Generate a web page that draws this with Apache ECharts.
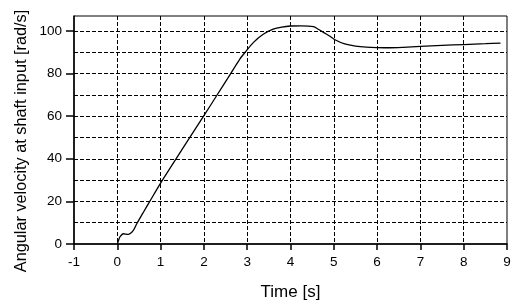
<!DOCTYPE html>
<html>
<head>
<meta charset="utf-8">
<script src="https://cdn.jsdelivr.net/npm/echarts@6/dist/echarts.min.js"></script>
<style>html,body{margin:0;padding:0;background:#fff}#c{width:526px;height:306px}</style>
</head>
<body>
<div id="c"></div>
<script>
const timeS = [0, 0.03, 0.06, 0.14, 0.25, 0.37, 0.45, 0.6, 0.75, 1.0, 1.5, 2.0, 2.3, 2.6, 2.83, 2.95, 3.14, 3.37, 3.6, 3.8, 4.0, 4.25, 4.53, 4.64, 4.78, 4.91, 5.05, 5.25, 5.5, 5.75, 6.0, 6.3, 6.6, 7.0, 7.5, 8.0, 8.5, 8.85];
const velocity = [0, 1.8, 3.3, 4.8, 4.5, 6.4, 9.5, 14.8, 20.0, 28.6, 44.5, 60.2, 69.8, 79.4, 86.8, 89.9, 94.5, 98.4, 100.8, 101.8, 102.3, 102.4, 102.0, 100.8, 99.1, 97.5, 95.6, 93.9, 92.9, 92.4, 92.2, 92.1, 92.3, 92.7, 93.2, 93.6, 94.0, 94.3];
const xTicks = [-1, 0, 1, 2, 3, 4, 5, 6, 7, 8, 9];
const yLabelTicks = [0, 20, 40, 60, 80, 100];
const xName = 'Time [s]';
const yName = 'Angular velocity at shaft input [rad/s]';

const chart = echarts.init(document.getElementById('c'), null, {renderer: 'canvas'});
const fontFam = '"Liberation Sans", Arial, sans-serif';
const dash = {color: '#000', type: [4, 2], width: 1};
chart.setOption({
  animation: false,
  backgroundColor: '#fff',
  grid: {left: 74, right: 19, top: 16, bottom: 61, show: true, borderColor: '#000', borderWidth: 1},
  xAxis: {
    type: 'value', min: xTicks[0], max: xTicks[xTicks.length - 1], interval: 1,
    name: xName, nameLocation: 'middle', nameGap: 40,
    nameTextStyle: {color: '#000', fontSize: 17, fontFamily: fontFam},
    axisLine: {show: true, onZero: false, lineStyle: {color: '#000', width: 1.5}},
    axisTick: {show: true, length: 6, lineStyle: {color: '#000', width: 1.5}},
    axisLabel: {color: '#000', fontSize: 13.5, fontFamily: fontFam, margin: 11},
    splitLine: {show: true, showMinLine: false, showMaxLine: false, lineStyle: dash}
  },
  yAxis: [{
    type: 'value', min: 0, max: 107, interval: 10, position: 'left',
    axisLine: {show: true, onZero: false, lineStyle: {color: '#000', width: 1.5}},
    axisTick: {show: false},
    axisLabel: {show: false},
    splitLine: {show: true, showMinLine: false, showMaxLine: false, lineStyle: dash}
  }, {
    type: 'value', min: 0, max: 107, interval: 10, position: 'left',
    axisLine: {show: false, onZero: false},
    axisTick: {show: true, length: 8, customValues: yLabelTicks, lineStyle: {color: '#000', width: 1.5}},
    axisLabel: {color: '#000', fontSize: 13.5, fontFamily: fontFam, margin: 12, customValues: yLabelTicks},
    splitLine: {show: false}
  }],
  graphic: [{
    type: 'text', x: 22, y: 141, rotation: Math.PI / 2,
    style: {text: yName, fill: '#000', font: '16.3px ' + fontFam, textAlign: 'center', textVerticalAlign: 'middle'}
  }],
  series: [{
    type: 'line', yAxisIndex: 0, data: timeS.map((t, i) => [t, velocity[i]]),
    showSymbol: false, smooth: 0.25, lineStyle: {color: '#000', width: 1.3}
  }]
});
</script>
</body>
</html>
